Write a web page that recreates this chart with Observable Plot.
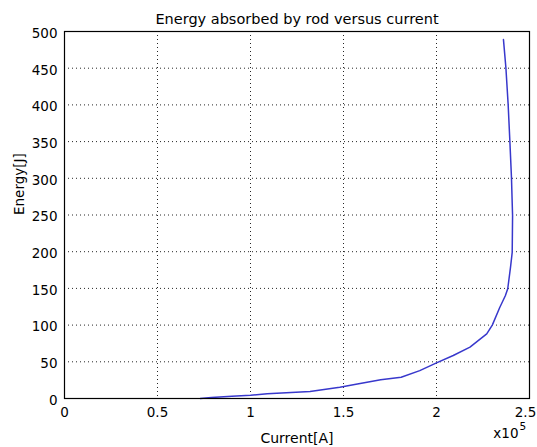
<!DOCTYPE html>
<html>
<head>
<meta charset="utf-8">
<script src="https://cdn.jsdelivr.net/npm/d3@7"></script>
<script src="https://cdn.jsdelivr.net/npm/@observablehq/plot@0.6"></script>
<style>
  html, body { margin: 0; padding: 0; background: white; }
  svg { overflow: visible; }
</style>
</head>
<body>
<div id="chart"></div>
<script>
const title = "Energy absorbed by rod versus current";
const xLabel = "Current[A]";
const yLabel = "Energy[J]";
const current = [73000, 79000, 90000, 100000, 109000, 127000, 132000, 148000, 156000, 170000, 181000, 191000, 200000, 209000, 218000, 227000, 230000, 234000, 237000, 238300, 239800, 240700, 240900, 240300, 239400, 238500, 237300, 236000];
const energy = [0, 1.4, 3, 4.5, 6.4, 9, 9.5, 15.4, 19, 25.5, 29, 38, 48.6, 58.6, 70, 88, 100, 124, 140, 149.5, 179, 199, 249, 301.5, 353, 401.5, 451, 489];
const xTicks = [0, 50000, 100000, 150000, 200000, 250000];
const yTicks = [0, 50, 100, 150, 200, 250, 300, 350, 400, 450, 500];

const data = current.map((c, i) => ({current: c, energy: energy[i]}));
const fs = 13.5;

const chart = Plot.plot({
  width: 537,
  height: 447,
  marginLeft: 64,
  marginRight: 8,
  marginTop: 31,
  marginBottom: 49,
  style: {fontFamily: "DejaVu Sans", fontSize: fs + "px", background: "white", color: "black"},
  x: {domain: [0, 250000]},
  y: {domain: [0, 500]},
  marks: [
    Plot.gridX(xTicks, {stroke: "black", strokeOpacity: 0.85, strokeDasharray: "1,3"}),
    Plot.gridY(yTicks, {stroke: "black", strokeOpacity: 0.85, strokeDasharray: "1,3"}),
    Plot.line(data, {x: "current", y: "energy", stroke: "#3838cc", strokeWidth: 1.5}),
    Plot.frame({stroke: "black", strokeWidth: 1.2}),
    Plot.axisX(xTicks.slice(0, -1), {tickFormat: d => d / 1e5, tickSize: 0, tickPadding: 9, fontSize: fs, label: null}),
    Plot.axisX(xTicks.slice(-1), {tickFormat: d => d / 1e5, tickSize: 0, tickPadding: 9, fontSize: fs, dx: -4, label: null}),
    Plot.axisY(yTicks, {tickSize: 0, tickPadding: 7, dy: 2, fontSize: fs, label: null}),
    Plot.text([title], {frameAnchor: "top", lineAnchor: "middle", dy: -12, fontSize: 14.5}),
    Plot.text([xLabel], {frameAnchor: "bottom", lineAnchor: "middle", dy: 40, fontSize: 14}),
    Plot.text([yLabel], {frameAnchor: "left", lineAnchor: "middle", rotate: -90, dx: -45, fontSize: 13.5}),
    Plot.text(["x10"], {frameAnchor: "bottom-right", lineAnchor: "middle", textAnchor: "end", dx: -11, dy: 35, fontSize: fs}),
    Plot.text(["5"], {frameAnchor: "bottom-right", lineAnchor: "middle", textAnchor: "start", dx: -10, dy: 28.5, fontSize: 10.5})
  ]
});
document.getElementById("chart").appendChild(chart);
</script>
</body>
</html>
